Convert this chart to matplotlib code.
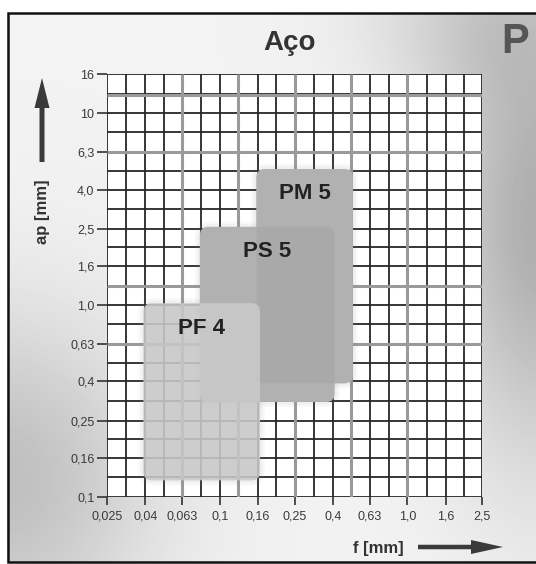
import numpy as np
import matplotlib.pyplot as plt
from matplotlib.patches import FancyBboxPatch, FancyArrow

plt.rcParams['font.family'] = ['Liberation Sans', 'DejaVu Sans']

W, H = 536, 564

# feed f [mm] along x, depth of cut ap [mm] along y (log grid)
f_ticks = [0.025, 0.04, 0.063, 0.1, 0.16, 0.25, 0.4, 0.63, 1.0, 1.6, 2.5]
f_labels = ["0,025", "0,04", "0,063", "0,1", "0,16", "0,25", "0,4", "0,63", "1,0", "1,6", "2,5"]
ap_ticks = [0.1, 0.16, 0.25, 0.4, 0.63, 1.0, 1.6, 2.5, 4.0, 6.3, 10, 16]
ap_labels = ["0,1", "0,16", "0,25", "0,4", "0,63", "1,0", "1,6", "2,5", "4,0", "6,3", "10", "16"]

# working areas of the chipbreakers: (f min, f max), (ap min, ap max)
areas = ["PM 5", "PS 5", "PF 4"]
area_f = [(0.16, 0.5), (0.08, 0.4), (0.04, 0.16)]
area_ap = [(0.4, 5.0), (0.32, 2.5), (0.125, 1.0)]


def with_mids(vals):
    # major lines plus the geometric midpoints between them
    out = []
    for a, b in zip(vals[:-1], vals[1:]):
        out += [a, np.sqrt(a * b)]
    return out + [vals[-1]]


def draw_background(fig):
    bg = fig.add_axes([0, 0, 1, 1], zorder=0)
    yy, xx = np.mgrid[0:H, 0:W]
    shade = (0.95
             - 0.27 * np.exp(-((xx - 545) ** 2 / (2 * 75.0 ** 2) + (yy - 220) ** 2 / (2 * 170.0 ** 2)))
             - 0.20 * np.exp(-((xx - 0) ** 2 / (2 * 110.0 ** 2) + (yy - 480) ** 2 / (2 * 120.0 ** 2)))
             - 0.10 * np.exp(-((xx - 470) ** 2 / (2 * 80.0 ** 2) + (yy - 20) ** 2 / (2 * 60.0 ** 2))))
    shade[(xx < 7) | (yy < 13) | (yy > 562)] = 1.0
    bg.imshow(shade, cmap='gray', vmin=0, vmax=1, extent=(0, W, H, 0), aspect='auto')
    bg.set_xlim(0, W)
    bg.set_ylim(H, 0)
    bg.axis('off')

    # frame
    bg.plot([W, 7.5, 7.5, W], [13, 13, 562, 562], color='#111111', lw=1.8, solid_joinstyle='miter')

    # titles
    bg.text(290, 43, "Aço", fontsize=20, fontweight='bold', color='#333333', ha='center', va='center')
    bg.text(515, 42, "P", fontsize=30, fontweight='bold', color='#555555', ha='center', va='center')

    # axis names with arrows
    bg.text(43, 212, "ap [mm]", fontsize=12, fontweight='bold', color='#333333',
            rotation=90, ha='center', va='center')
    bg.add_patch(FancyArrow(42, 162, 0, -84, width=5, head_width=15, head_length=30,
                            length_includes_head=True, color='#3a3a3a', lw=0))
    bg.text(378, 548, "f [mm]", fontsize=12, fontweight='bold', color='#333333',
            ha='center', va='center')
    bg.add_patch(FancyArrow(418, 547, 85, 0, width=4.5, head_width=14, head_length=32,
                            length_includes_head=True, color='#3a3a3a', lw=0))
    return bg


def area_box(L, f, ap, pad, **kw):
    x0, x1, y0, y1 = L(f[0]), L(f[1]), L(ap[0]), L(ap[1])
    return FancyBboxPatch((x0, y0), x1 - x0, y1 - y0,
                          boxstyle=f"round,pad={pad},rounding_size={0.035 + pad}", ec='none', **kw)


def draw_chart(fig):
    L = np.log10
    ax = fig.add_axes([107 / W, 1 - 497 / H, 375 / W, 423 / H], zorder=1)
    ax.set_facecolor('white')
    ax.set_xlim(L(f_ticks[0]), L(f_ticks[-1]))
    ax.set_ylim(L(ap_ticks[0]), L(ap_ticks[-1]))
    for s in ax.spines.values():
        s.set_visible(False)

    # grid
    ax.vlines(L(with_mids(f_ticks)), L(ap_ticks[0]), L(ap_ticks[-1]), color='#262626', lw=1.3, zorder=1)
    ax.hlines(L(with_mids(ap_ticks)), L(f_ticks[0]), L(f_ticks[-1]), color='#262626', lw=1.3, zorder=1)
    # lighter doubling lines
    ax.vlines(L([0.063, 0.125, 0.25, 0.5, 1.0]), L(ap_ticks[0]), L(ap_ticks[-1]),
              color='#9a9a9a', lw=2.2, zorder=1.5)
    ax.hlines(L([0.63, 1.25, 6.3, 12.5]), L(f_ticks[0]), L(f_ticks[-1]),
              color='#9a9a9a', lw=2.2, zorder=1.5)

    ax.set_xticks(L(f_ticks))
    ax.set_xticklabels(f_labels)
    ax.set_yticks(L(ap_ticks))
    ax.set_yticklabels(ap_labels)
    ax.tick_params(axis='x', direction='out', length=6, width=1.2, color='#333333',
                   labelsize=9, labelcolor='#3a3a3a', pad=4)
    ax.tick_params(axis='y', direction='out', length=7, width=1.2, color='#333333',
                   labelsize=9, labelcolor='#3a3a3a', pad=2)

    # soft halo round every area
    for f, ap in zip(area_f, area_ap):
        for k in range(3):
            ax.add_patch(area_box(L, f, ap, 0.012 * (k + 1), fc='#909090', alpha=0.06, zorder=2))

    # PM 5 and PS 5: solid base, then a light shade each so the overlap reads darker
    for f, ap in zip(area_f[:2], area_ap[:2]):
        ax.add_patch(area_box(L, f, ap, 0.01, fc='#bababa', zorder=2.1))
    for f, ap in zip(area_f[:2], area_ap[:2]):
        ax.add_patch(area_box(L, f, ap, 0.01, fc='black', alpha=0.045, zorder=2.2))
    # PF 4 on top, grid faintly showing through
    ax.add_patch(area_box(L, area_f[2], area_ap[2], 0.01, fc='#c9c9c9', alpha=0.88, zorder=2.3))

    for name, f, ap in zip(areas, area_f, area_ap):
        ax.text((L(f[0]) + L(f[1])) / 2, L(ap[1]) - 0.12, name, fontsize=16, fontweight='bold',
                color='#222222', ha='center', va='center', zorder=3)
    return ax


def main():
    fig = plt.figure(figsize=(W / 100, H / 100), dpi=100)
    draw_background(fig)
    draw_chart(fig)
    fig.savefig("out.png", dpi=100)


if __name__ == "__main__":
    main()
